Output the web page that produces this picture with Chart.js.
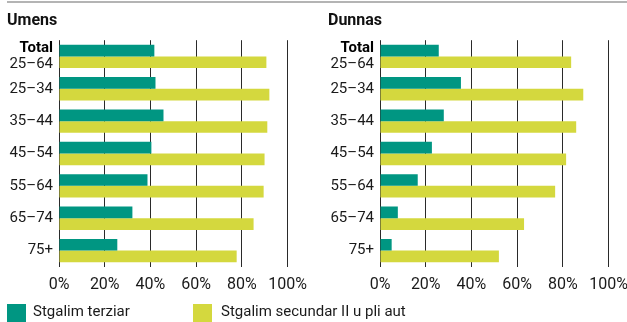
<!DOCTYPE html>
<html>
<head>
<meta charset="utf-8">
<script src="https://cdn.jsdelivr.net/npm/chart.js@4.4.1/dist/chart.umd.min.js"></script>
<style>
  html, body { margin: 0; padding: 0; background: #fff; }
  body { width: 627px; height: 322px; overflow: hidden; position: relative; font-family: Roboto, sans-serif; color: #1a1a1a; }
  .rule { position: absolute; left: 7px; right: 0; top: 1px; height: 2px; background: #b4b4b4; }
  .panel { position: absolute; top: 0; width: 316px; height: 308px; }
  .key { position: absolute; top: 304px; width: 19px; height: 19px; }
  .key-text { position: absolute; top: 302px; font-size: 15px; line-height: 19px; white-space: nowrap; }
</style>
</head>
<body>
<div class="rule"></div>
<div class="panel" style="left:0"><canvas id="umens"></canvas></div>
<div class="panel" style="left:321px"><canvas id="dunnas"></canvas></div>

<div class="key" id="key1" style="left:7px"></div>
<div class="key-text" id="lab1" style="left:33px"></div>
<div class="key" id="key2" style="left:193px"></div>
<div class="key-text" id="lab2" style="left:221px"></div>

<script>
// age groups, the first one is the "Total" row
const totalLabel = 'Total';
const ageGroups = ['25–64', '25–34', '35–44', '45–54', '55–64', '65–74', '75+'];
const seriesNames = ['Stgalim terziar', 'Stgalim secundar II u pli aut'];
const xTicks = [0, 20, 40, 60, 80, 100];

// shares in %
const umensTerziar   = [41.7, 42.2, 45.7, 40.4, 38.7, 32.1, 25.5];
const umensSecundar  = [90.7, 92.0, 91.1, 89.9, 89.5, 85.1, 77.7];
const dunnasTerziar  = [25.7, 35.4, 27.9, 22.7, 16.5, 7.8, 5.1];
const dunnasSecundar = [83.6, 88.9, 85.8, 81.4, 76.6, 63.0, 52.0];

const TEAL = '#009682';
const LIME = '#d4d83e';
const FONT = 'Roboto, sans-serif';

// bold "Total" above the first age label
const totalRow = {
  id: 'totalRow',
  afterDraw(chart) {
    const y = chart.scales.y;
    const f = y.options.ticks.font;
    const lh = f.size * f.lineHeight;
    const ctx = chart.ctx;
    ctx.save();
    ctx.font = 'bold ' + f.size + 'px ' + FONT;
    ctx.fillStyle = '#000';
    ctx.textAlign = 'right';
    ctx.textBaseline = 'middle';
    ctx.fillText(totalLabel, y.right - y.options.ticks.padding, y.getPixelForTick(0) - lh / 2);
    ctx.restore();
  }
};

function makeChart(id, title, terziar, secundar) {
  return new Chart(document.getElementById(id), {
    type: 'bar',
    data: {
      labels: ageGroups,
      datasets: [
        { label: seriesNames[0], data: terziar, backgroundColor: TEAL },
        { label: seriesNames[1], data: secundar, backgroundColor: LIME }
      ]
    },
    options: {
      indexAxis: 'y',
      responsive: true,
      maintainAspectRatio: false,
      animation: false,
      datasets: { bar: { categoryPercentage: 0.72, barPercentage: 1.0 } },
      layout: { padding: { top: 4, left: 7, right: 0, bottom: 4 } },
      plugins: {
        legend: { display: false },
        tooltip: { enabled: false },
        title: {
          display: true,
          text: title,
          align: 'start',
          color: '#111',
          font: { family: FONT, size: 16, weight: 'bold' },
          padding: { top: 7, bottom: 10 }
        }
      },
      scales: {
        x: {
          min: 0,
          max: 100,
          afterBuildTicks(scale) { scale.ticks = xTicks.map(v => ({ value: v })); },
          grid: { color: '#2a2a2a', lineWidth: 1, drawTicks: false },
          border: { display: false },
          ticks: {
            padding: 9,
            color: '#1a1a1a',
            font: { family: FONT, size: 16, lineHeight: 1.2 },
            callback: v => v + '%'
          }
        },
        y: {
          grid: { display: false, drawTicks: false },
          border: { display: false },
          afterFit(scale) { scale.width = 52; },
          ticks: {
            autoSkip: false,
            padding: 6,
            color: '#1a1a1a',
            font: { family: FONT, size: 15, lineHeight: 1.1 },
            callback: (v, i) => i === 0 ? ['', ageGroups[0]] : ageGroups[i]
          }
        }
      }
    },
    plugins: [totalRow]
  });
}

makeChart('umens', 'Umens', umensTerziar, umensSecundar);
makeChart('dunnas', 'Dunnas', dunnasTerziar, dunnasSecundar);

// legend under both panels
document.getElementById('key1').style.background = TEAL;
document.getElementById('key2').style.background = LIME;
document.getElementById('lab1').textContent = seriesNames[0];
document.getElementById('lab2').textContent = seriesNames[1];
</script>
</body>
</html>
